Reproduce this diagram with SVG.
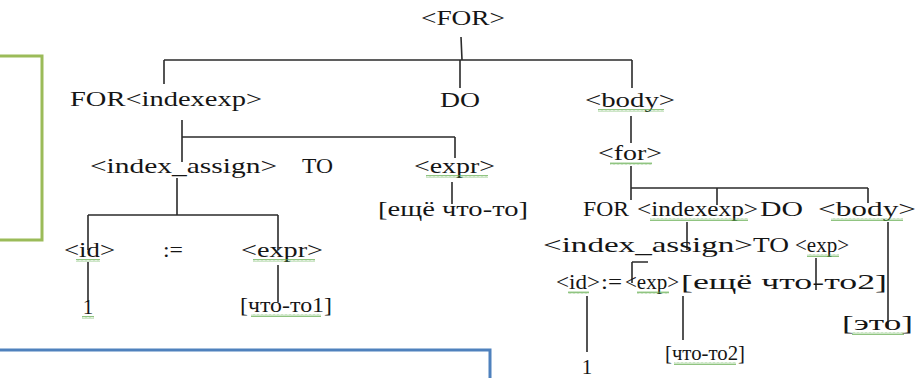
<svg xmlns="http://www.w3.org/2000/svg" width="917" height="378" viewBox="0 0 917 378">
  <defs>
    <!-- wavy underline used under flagged words -->
    <pattern id="squig" width="4" height="3" patternUnits="userSpaceOnUse">
      <path d="M0 2.5 L1 0.5 L2 2.5 L3 0.5 L4 2.5" fill="none" stroke="#5aa845" stroke-width="0.8"/>
    </pattern>
  </defs>
  <style>
    text { font-family: "Liberation Serif", "Times New Roman", serif; font-size: 21px; fill: #151515; }
    .edge { fill: none; stroke: #2b2b2b; stroke-width: 1.6; }
    .squig { fill: url(#squig); opacity: 0.85; }
    .frame-green { fill: none; stroke: #9bbb59; stroke-width: 3; }
    .frame-blue { fill: none; stroke: #4f81bd; stroke-width: 3; }
  </style>
  <rect width="917" height="378" fill="#ffffff"/>

  <!-- side frames -->
  <path class="frame-green" d="M-2 56 H42 V240 H-2"/>
  <path class="frame-blue" d="M-2 350 H490 V380"/>

  <!-- tree edges -->
  <g id="connectors">
    <path class="edge" d="M461 37 L462 60 M164 60 H632 M164 60 V84 M460 60 V88 M632 60 V88"/>
    <path class="edge" d="M631 116 V143"/>
    <path class="edge" d="M182 120 V162 M182 137 H455 M455 137 V158"/>
    <path class="edge" d="M177 178 V215 M88 215 H278 M88 215 V250 M278 215 V250"/>
    <path class="edge" d="M452 182 V204"/>
    <path class="edge" d="M88 262 V302 M278 265 V302"/>
    <path class="edge" d="M631 166 V200 M631 188 H868 M717 188 V205 M868 188 V203"/>
    <path class="edge" d="M687 222 V250 M888 222 V328"/>
    <path class="edge" d="M632 262 H648 M632 262 V283 M816 258 V290"/>
    <path class="edge" d="M587 296 V352 M683 296 V340"/>
  </g>

  <g id="n-root"><text x="421" y="25" textLength="84" lengthAdjust="spacingAndGlyphs">&lt;FOR&gt;</text></g>

  <g id="n-indexexp"><text x="70" y="106" textLength="192" lengthAdjust="spacingAndGlyphs">FOR&lt;indexexp&gt;</text></g>
  <g id="n-do"><text x="440" y="107" textLength="40" lengthAdjust="spacingAndGlyphs">DO</text></g>
  <g id="n-body">
    <text x="585" y="107" textLength="90" lengthAdjust="spacingAndGlyphs">&lt;body&gt;</text>
    <rect class="squig" x="598" y="109" width="66" height="3"/>
  </g>
  <g id="n-for">
    <text x="598" y="160" textLength="64" lengthAdjust="spacingAndGlyphs">&lt;for&gt;</text>
    <rect class="squig" x="610" y="162" width="42" height="3"/>
  </g>

  <g id="n-index-assign"><text x="90" y="173" textLength="187" lengthAdjust="spacingAndGlyphs">&lt;index_assign&gt;</text></g>
  <g id="n-to"><text x="302" y="173" textLength="31" lengthAdjust="spacingAndGlyphs">TO</text></g>
  <g id="n-expr">
    <text x="414" y="173" textLength="81" lengthAdjust="spacingAndGlyphs">&lt;expr&gt;</text>
    <rect class="squig" x="426" y="175" width="62" height="3"/>
  </g>
  <g id="n-something"><text x="378" y="216" textLength="150" lengthAdjust="spacingAndGlyphs">[ещё что-то]</text></g>

  <g id="n-id">
    <text x="64" y="257" textLength="51" lengthAdjust="spacingAndGlyphs">&lt;id&gt;</text>
    <rect class="squig" x="76" y="259" width="24" height="3"/>
  </g>
  <g id="n-assign"><text x="163" y="257" textLength="20" lengthAdjust="spacingAndGlyphs">:=</text></g>
  <g id="n-expr2">
    <text x="241" y="257" textLength="82" lengthAdjust="spacingAndGlyphs">&lt;expr&gt;</text>
    <rect class="squig" x="253" y="259" width="62" height="3"/>
  </g>
  <g id="n-one">
    <text x="88" y="314" text-anchor="middle">1</text>
    <rect class="squig" x="82" y="316" width="12" height="3"/>
  </g>
  <g id="n-something1">
    <text x="240" y="312" textLength="92" lengthAdjust="spacingAndGlyphs">[что-то1]</text>
    <rect class="squig" x="251" y="314" width="70" height="3"/>
  </g>

  <!-- nested loop -->
  <g id="n-for2"><text x="583" y="216" textLength="46" lengthAdjust="spacingAndGlyphs">FOR</text></g>
  <g id="n-indexexp2">
    <text x="637" y="216" textLength="121" lengthAdjust="spacingAndGlyphs">&lt;indexexp&gt;</text>
    <rect class="squig" x="650" y="218" width="98" height="3"/>
  </g>
  <g id="n-do2"><text x="760" y="216" textLength="43" lengthAdjust="spacingAndGlyphs">DO</text></g>
  <g id="n-body2">
    <text x="818" y="216" textLength="98" lengthAdjust="spacingAndGlyphs">&lt;body&gt;</text>
    <rect class="squig" x="831" y="218" width="72" height="3"/>
  </g>
  <g id="n-index-assign2"><text x="543" y="252" textLength="210" lengthAdjust="spacingAndGlyphs">&lt;index_assign&gt;</text></g>
  <g id="n-to2"><text x="753" y="252" textLength="36" lengthAdjust="spacingAndGlyphs">TO</text></g>
  <g id="n-exp">
    <text x="795" y="252" textLength="54" lengthAdjust="spacingAndGlyphs">&lt;exp&gt;</text>
    <rect class="squig" x="807" y="254" width="32" height="3"/>
  </g>
  <g id="n-id2">
    <text x="556" y="289" textLength="44" lengthAdjust="spacingAndGlyphs">&lt;id&gt;</text>
    <rect class="squig" x="568" y="291" width="21" height="3"/>
  </g>
  <g id="n-assign2"><text x="601" y="289" textLength="21" lengthAdjust="spacingAndGlyphs">:=</text></g>
  <g id="n-exp2">
    <text x="625" y="289" textLength="54" lengthAdjust="spacingAndGlyphs">&lt;exp&gt;</text>
    <rect class="squig" x="637" y="291" width="32" height="3"/>
  </g>
  <g id="n-something2"><text x="681" y="289" textLength="206" lengthAdjust="spacingAndGlyphs">[ещё что-то2]</text></g>
  <g id="n-this">
    <text x="842" y="330" textLength="71" lengthAdjust="spacingAndGlyphs">[это]</text>
    <rect class="squig" x="852" y="332" width="52" height="3"/>
  </g>
  <g id="n-something2b">
    <text x="665" y="360" textLength="80" lengthAdjust="spacingAndGlyphs">[что-то2]</text>
    <rect class="squig" x="674" y="362" width="62" height="3"/>
  </g>
  <g id="n-one2"><text x="587" y="374" text-anchor="middle">1</text></g>
</svg>
